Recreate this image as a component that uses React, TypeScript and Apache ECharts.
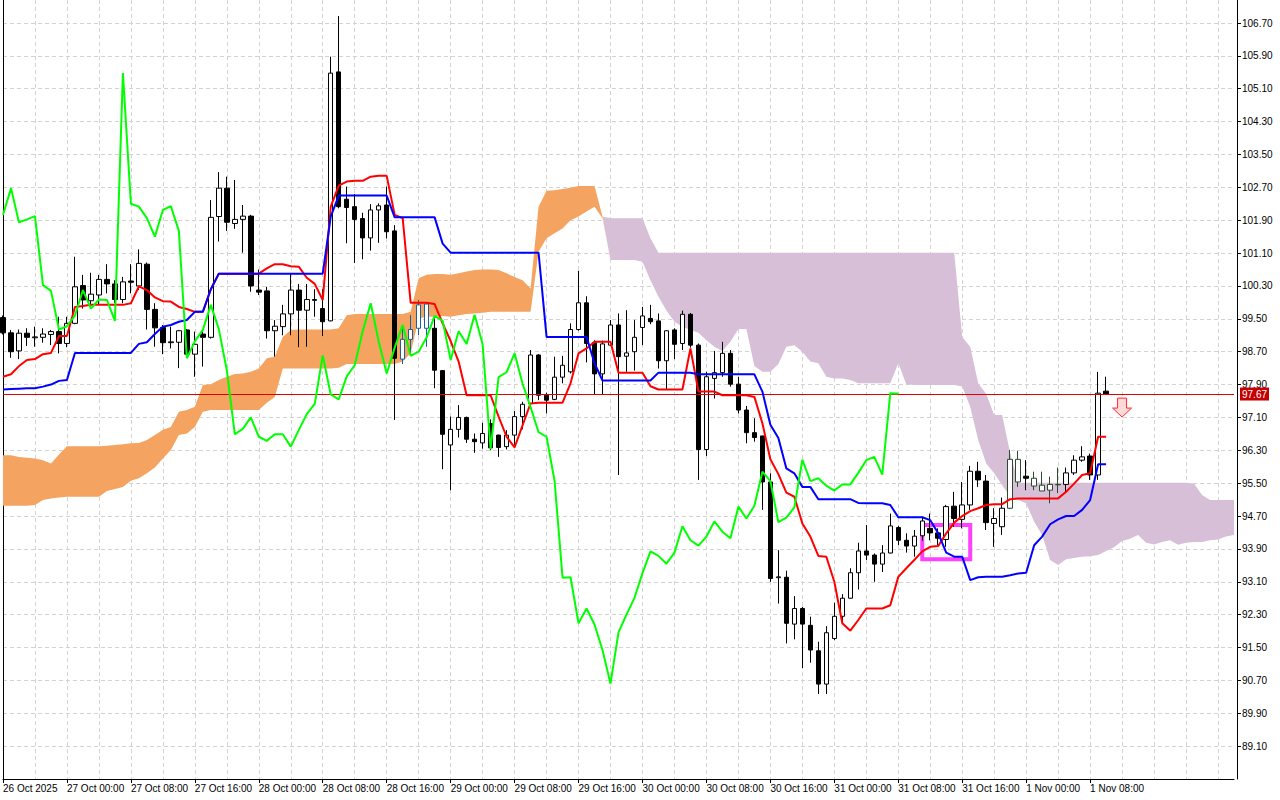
import React, { useEffect, useRef } from "react";
import * as echarts from "echarts";

// ---- time axis labels (one every 8 hourly bars, starting at bar 0) ----
const timeLabels = [
  "26 Oct 2025", "27 Oct 00:00", "27 Oct 08:00", "27 Oct 16:00", "28 Oct 00:00", "28 Oct 08:00",
  "28 Oct 16:00", "29 Oct 00:00", "29 Oct 08:00", "29 Oct 16:00", "30 Oct 00:00", "30 Oct 08:00",
  "30 Oct 16:00", "31 Oct 00:00", "31 Oct 08:00", "31 Oct 16:00", "1 Nov 00:00", "1 Nov 08:00",
];

// ---- hourly candles ----
const opens = [
  99.53, 99.16, 98.72, 99.15, 99.04, 99.05, 99.12, 99.19, 98.90, 99.39,
  100.31, 99.94, 100.08, 100.46, 100.35, 99.97, 100.42, 100.30, 100.83, 99.73,
  99.29, 98.92, 98.93, 99.23, 98.64, 99.13, 99.05, 101.99, 102.68, 101.82,
  101.92, 102.00, 100.20, 100.18, 99.21, 99.31, 99.62, 100.20, 99.71, 99.97,
  99.75, 99.45, 105.51, 102.41, 102.23, 101.94, 101.47, 102.15, 102.27, 101.64,
  98.52, 99.00, 99.27, 99.86, 99.27, 98.24, 96.43, 96.81, 97.10, 96.57,
  96.48, 96.95, 96.67, 96.39, 96.67, 97.12, 97.44, 98.62, 97.64, 97.54,
  98.08, 98.21, 99.24, 99.89, 98.92, 98.16, 98.86, 99.35, 98.59, 98.70,
  99.29, 99.51, 99.45, 98.48, 99.23, 98.90, 99.61, 98.86, 96.32, 98.05,
  98.19, 98.66, 97.91, 97.28, 96.73, 96.65, 95.53, 93.20, 93.21, 92.07,
  92.45, 92.04, 91.42, 90.61, 91.72, 92.26, 92.70, 93.32, 93.85, 93.75,
  93.53, 93.80, 94.42, 94.11, 93.97, 94.22, 94.40, 94.29, 94.13, 94.94,
  94.62, 94.97, 95.79, 95.55, 94.52, 94.44, 94.89, 96.08, 95.67, 95.62,
  95.45, 95.33, 95.47, 95.47, 95.75, 96.06, 96.16, 95.70, 97.74,
];
const closes = [
  99.16, 98.70, 99.15, 99.05, 99.06, 99.13, 99.19, 98.90, 99.39, 100.28,
  99.96, 100.10, 100.46, 100.35, 99.97, 100.40, 100.39, 100.85, 99.73, 99.28,
  98.92, 98.94, 99.21, 98.64, 98.88, 99.05, 101.97, 102.68, 101.85, 101.92,
  102.00, 100.30, 100.15, 99.21, 99.32, 99.62, 100.20, 99.71, 99.97, 99.95,
  99.43, 105.48, 102.23, 102.21, 101.92, 101.47, 102.15, 102.25, 101.62, 98.54,
  99.00, 99.24, 99.84, 99.27, 98.25, 96.69, 96.81, 97.10, 96.57, 96.51,
  96.71, 96.36, 96.37, 96.67, 97.12, 97.42, 98.62, 97.64, 97.52, 98.08,
  98.37, 99.24, 99.89, 98.90, 98.16, 98.89, 99.35, 98.58, 98.67, 99.05,
  99.57, 99.43, 98.48, 99.21, 98.88, 99.61, 98.86, 96.32, 98.09, 98.19,
  98.66, 97.91, 97.28, 96.73, 96.61, 95.53, 93.18, 93.22, 92.09, 92.45,
  92.07, 91.44, 90.61, 91.86, 92.26, 92.70, 93.32, 93.85, 93.75, 93.53,
  93.80, 94.46, 94.11, 93.97, 94.21, 94.58, 94.29, 94.16, 94.93, 94.64,
  94.97, 95.79, 95.58, 94.54, 94.64, 94.89, 96.08, 95.53, 95.62, 95.43,
  95.31, 95.47, 95.46, 95.75, 96.06, 96.14, 95.70, 97.69, 97.67,
];
const lows = [
  99.12, 98.55, 98.52, 98.84, 98.82, 98.92, 98.86, 98.66, 98.81, 99.37,
  99.75, 99.84, 99.84, 100.12, 99.88, 99.88, 100.12, 100.20, 99.24, 98.82,
  98.64, 98.78, 98.30, 98.58, 98.09, 98.34, 99.02, 101.38, 101.64, 101.69,
  101.11, 100.16, 100.08, 99.02, 98.58, 99.10, 99.10, 98.81, 98.82, 99.55,
  99.08, 99.44, 102.19, 101.34, 100.86, 100.95, 101.16, 101.35, 101.46, 97.04,
  98.40, 98.62, 99.10, 98.82, 97.81, 95.84, 95.33, 96.61, 96.48, 96.24,
  96.34, 96.30, 96.14, 96.32, 96.37, 96.81, 97.38, 97.52, 97.20, 97.52,
  97.93, 98.17, 99.21, 98.44, 97.67, 97.67, 98.85, 95.70, 98.21, 98.24,
  98.86, 99.37, 98.29, 97.78, 98.52, 98.74, 98.80, 95.58, 96.16, 97.56,
  98.09, 97.85, 97.20, 96.47, 96.51, 94.85, 93.10, 92.57, 91.60, 91.70,
  91.00, 91.13, 90.37, 90.37, 91.68, 92.13, 92.69, 92.91, 93.63, 93.10,
  93.34, 93.79, 93.99, 93.81, 93.71, 94.10, 94.11, 93.99, 93.95, 94.44,
  94.40, 94.85, 95.41, 94.36, 93.95, 94.24, 94.87, 95.41, 95.33, 95.33,
  95.31, 95.01, 95.26, 95.26, 95.70, 96.02, 95.58, 95.58, 97.66,
];
const highs = [
  99.58, 99.23, 99.24, 99.27, 99.31, 99.27, 99.23, 99.55, 99.55, 101.01,
  100.57, 100.62, 100.57, 100.83, 100.44, 100.52, 100.83, 101.19, 100.87, 99.88,
  99.35, 99.31, 99.23, 99.25, 99.19, 99.23, 102.39, 103.07, 102.96, 102.88,
  102.27, 102.03, 100.70, 100.28, 99.47, 99.84, 100.61, 100.35, 100.35, 100.22,
  100.22, 105.88, 106.87, 102.72, 102.54, 102.08, 102.29, 102.31, 102.72, 101.78,
  99.31, 99.59, 99.96, 99.89, 99.51, 98.25, 97.12, 97.40, 97.12, 96.71,
  96.97, 97.05, 96.68, 96.79, 97.26, 97.48, 98.74, 98.64, 97.70, 98.58,
  98.60, 99.39, 100.67, 100.05, 98.98, 98.97, 99.47, 99.63, 99.71, 99.47,
  99.79, 99.84, 99.63, 99.22, 99.27, 99.70, 99.64, 98.90, 98.21, 98.72,
  98.94, 98.74, 98.09, 97.38, 97.08, 96.65, 95.74, 93.87, 93.37, 92.75,
  92.49, 92.25, 91.64, 92.02, 92.59, 92.80, 93.43, 94.05, 94.48, 93.79,
  93.99, 94.76, 94.46, 94.28, 94.36, 94.68, 94.76, 94.40, 94.97, 95.29,
  95.53, 95.92, 96.02, 95.70, 94.89, 95.15, 96.31, 96.29, 96.06, 95.78,
  95.78, 95.66, 95.88, 95.88, 96.18, 96.40, 96.22, 98.21, 98.09,
];

// candles that the terminal paints in the inverted cloud colour
const candlesOverBullKumo = [50, 51, 52, 53];
const candlesOverBearKumo = [126, 127, 129, 130, 131, 132];
// tenkan stretch painted pink where it runs through the bullish cloud
const tenkanOverKumo = { from: 50.5, to: 54.5 };

// ---- Ichimoku lines ----
const tenkan = [
  98.09, 98.15, 98.35, 98.50, 98.52, 98.64, 98.67, 99.08, 99.08, 99.79,
  99.81, 99.84, 99.84, 99.84, 99.84, 99.84, 99.88, 100.29, 100.20, 100.02,
  99.93, 99.92, 99.79, 99.74, 99.67, 99.67, 100.22, 100.60, 100.60, 100.60,
  100.60, 100.60, 100.60, 100.73, 100.83, 100.83, 100.78, 100.77, 100.50, 100.35,
  99.96, 102.23, 102.74, 102.84, 102.86, 102.86, 102.96, 102.98, 102.98, 102.03,
  101.95, 99.89, 99.89, 99.89, 99.86, 99.39, 98.96, 98.46, 97.64, 97.64,
  97.64, 97.64, 97.12, 96.63, 96.37, 96.91, 97.44, 97.46, 97.46, 97.46,
  97.46, 97.93, 98.66, 98.78, 98.94, 98.94, 98.94, 98.19, 98.19, 98.19,
  98.19, 97.86, 97.78, 97.78, 97.78, 97.78, 98.78, 97.73, 97.73, 97.73,
  97.64, 97.64, 97.64, 97.64, 97.60, 96.96, 96.08, 95.72, 95.27, 95.17,
  94.52, 94.20, 93.73, 93.71, 93.10, 92.09, 91.91, 92.17, 92.45, 92.45,
  92.45, 92.53, 93.22, 93.43, 93.63, 93.84, 93.95, 93.97, 94.28, 94.54,
  94.70, 94.82, 94.89, 94.97, 94.99, 94.99, 95.11, 95.13, 95.13, 95.13,
  95.13, 95.13, 95.13, 95.29, 95.49, 95.70, 95.74, 96.63, 96.63,
];
const kijun = [
  97.78, 97.79, 97.80, 97.81, 97.81, 97.85, 97.90, 97.99, 98.01, 98.67,
  98.67, 98.67, 98.67, 98.67, 98.67, 98.67, 98.67, 98.89, 98.93, 99.13,
  99.31, 99.35, 99.43, 99.47, 99.67, 99.67, 100.22, 100.60, 100.60, 100.60,
  100.60, 100.60, 100.60, 100.60, 100.60, 100.60, 100.60, 100.60, 100.60, 100.60,
  100.60, 101.99, 102.50, 102.50, 102.50, 102.50, 102.50, 102.50, 102.50, 101.97,
  101.97, 101.97, 101.97, 101.97, 101.97, 101.33, 101.11, 101.11, 101.11, 101.11,
  101.11, 101.11, 101.11, 101.11, 101.11, 101.11, 101.11, 101.11, 99.06, 99.06,
  99.06, 99.06, 99.06, 99.06, 98.42, 98.00, 98.00, 98.00, 98.00, 98.00,
  98.00, 98.00, 98.19, 98.19, 98.19, 98.19, 98.19, 98.15, 98.15, 98.15,
  98.15, 98.15, 98.15, 98.15, 98.15, 97.73, 96.92, 96.60, 95.86, 95.74,
  95.41, 95.41, 95.11, 95.11, 95.11, 95.11, 95.11, 95.02, 95.01, 95.01,
  95.01, 94.97, 94.67, 94.67, 94.67, 94.67, 94.60, 94.28, 93.81, 93.71,
  93.71, 93.14, 93.21, 93.22, 93.22, 93.22, 93.26, 93.30, 93.32, 93.99,
  94.20, 94.50, 94.62, 94.70, 94.70, 94.85, 95.09, 95.96, 95.96,
];
const chikou = [
  102.03, 102.68, 101.85, 101.92, 102.00, 100.32, 100.18, 99.24, 99.32, 99.58,
  100.20, 99.75, 99.97, 99.96, 99.45, 105.48, 102.30, 102.23, 101.95, 101.50,
  102.15, 102.24, 101.64, 98.54, 98.95, 99.23, 99.84, 99.25, 98.25, 96.69,
  96.82, 97.10, 96.63, 96.53, 96.69, 96.69, 96.39, 96.79, 97.18, 97.43,
  98.61, 97.66, 97.54, 98.10, 98.37, 99.20, 99.88, 98.95, 98.17, 98.80,
  99.35, 98.60, 98.70, 99.05, 99.57, 99.45, 98.50, 99.20, 98.89, 99.60,
  98.88, 96.33, 98.08, 98.20, 98.66, 97.92, 97.35, 96.74, 96.63, 95.56,
  93.20, 93.21, 92.09, 92.45, 92.06, 91.44, 90.62, 91.87, 92.30, 92.71,
  93.31, 93.84, 93.73, 93.54, 93.81, 94.45, 94.11, 93.98, 94.20, 94.57,
  94.32, 94.16, 94.93, 94.64, 94.95, 95.78, 95.55, 94.55, 94.66, 94.91,
  96.07, 95.55, 95.62, 95.44, 95.32, 95.47, 95.47, 95.75, 96.06, 96.14,
  95.71, 97.69, 97.68,
];
const senkouA = [
  96.18, 96.18, 96.14, 96.12, 96.10, 96.06, 95.98, 96.20, 96.40, 96.40,
  96.40, 96.40, 96.40, 96.41, 96.43, 96.45, 96.47, 96.48, 96.55, 96.67,
  96.80, 96.87, 97.24, 97.28, 97.36, 97.89, 97.91, 98.01, 98.09, 98.16,
  98.17, 98.21, 98.29, 98.54, 98.58, 99.06, 99.23, 99.24, 99.24, 99.24,
  99.24, 99.24, 99.27, 99.59, 99.62, 99.62, 99.62, 99.62, 99.62, 99.62,
  99.62, 99.67, 100.49, 100.57, 100.59, 100.59, 100.57, 100.61, 100.65, 100.69,
  100.70, 100.70, 100.69, 100.61, 100.52, 100.44, 100.24, 102.23, 102.62, 102.63,
  102.66, 102.69, 102.73, 102.73, 102.73, 101.99, 100.93, 100.93, 100.93, 100.93,
  100.89, 100.44, 100.04, 99.70, 99.43, 99.31, 99.23, 99.16, 98.98, 98.82,
  98.72, 98.94, 99.25, 99.25, 98.35, 98.21, 98.21, 98.40, 98.82, 98.86,
  98.70, 98.46, 98.42, 98.09, 98.05, 98.05, 98.01, 97.93, 97.93, 97.93,
  97.93, 97.93, 98.42, 97.91, 97.89, 97.89, 97.89, 97.89, 97.89, 97.89,
  97.85, 97.36, 96.55, 95.98, 95.74, 95.45, 95.17, 95.09, 95.01, 94.56,
  94.24, 93.63, 93.51, 93.65, 93.68, 93.71, 93.72, 93.75, 93.85, 93.94,
  94.09, 94.15, 94.24, 94.05, 94.01, 94.07, 94.11, 94.00, 94.05, 94.07,
  94.07, 94.11, 94.13, 94.20, 94.24,
];
const senkouB = [
  94.95, 94.95, 94.95, 94.95, 94.97, 95.09, 95.13, 95.15, 95.17, 95.17,
  95.17, 95.17, 95.17, 95.31, 95.36, 95.41, 95.56, 95.62, 95.74, 95.88,
  96.10, 96.31, 96.67, 96.71, 96.87, 97.24, 97.28, 97.28, 97.28, 97.28,
  97.28, 97.28, 97.28, 97.46, 97.60, 98.29, 98.29, 98.29, 98.29, 98.29,
  98.29, 98.29, 98.31, 98.40, 98.40, 98.40, 98.40, 98.40, 98.40, 98.40,
  98.46, 98.66, 99.51, 99.55, 99.55, 99.57, 99.55, 99.59, 99.62, 99.63,
  99.65, 99.67, 99.67, 99.67, 99.67, 99.67, 99.67, 101.13, 101.46, 101.58,
  101.70, 101.90, 101.99, 102.11, 102.23, 101.95, 101.95, 101.95, 101.95, 101.95,
  101.95, 101.46, 101.11, 101.11, 101.11, 101.11, 101.11, 101.11, 101.11, 101.11,
  101.11, 101.11, 101.11, 101.11, 101.11, 101.11, 101.11, 101.11, 101.11, 101.11,
  101.11, 101.11, 101.11, 101.11, 101.11, 101.11, 101.11, 101.11, 101.11, 101.11,
  101.11, 101.11, 101.11, 101.11, 101.11, 101.11, 101.11, 101.11, 101.11, 101.11,
  99.06, 98.82, 97.93, 97.67, 97.16, 97.16, 96.23, 95.51, 95.51, 95.51,
  95.51, 95.51, 95.51, 95.51, 95.51, 95.51, 95.51, 95.51, 95.51, 95.51,
  95.51, 95.51, 95.51, 95.51, 95.51, 95.51, 95.51, 95.51, 95.51, 95.49,
  95.21, 95.09, 95.09, 95.09, 95.09,
];

// ---- annotations ----
const bidPrice = 97.67;
const signalBox = { fromBar: "115", toBar: "121", top: 94.48, bottom: 93.65 };
const sellArrow = { bar: "140", price: 97.34 };

// ---- price scale ----
const priceMin = 88.3;
const priceMax = 107.26;
const priceStep = 0.8;

const FONT = "'Liberation Sans', Arial, sans-serif";
const GRID_COLOR = "#d3d3d3";
const BULL_KUMO = "#F4A460";
const BEAR_KUMO = "#D8BFD8";
const ON_BULL_KUMO = "#1a5f9e";
const ON_BEAR_KUMO = "#2c4a2c";

export default function App() {
  const ref = useRef<HTMLDivElement>(null);

  useEffect(() => {
    if (!ref.current) return;
    const chart = echarts.init(ref.current, null, { renderer: "svg" });

    const categories = senkouA.map((_, i) => String(i));
    const candles = opens.map((o, i) => {
      const value = [o, closes[i], lows[i], highs[i]];
      const tint = candlesOverBullKumo.includes(i)
        ? ON_BULL_KUMO
        : candlesOverBearKumo.includes(i)
        ? ON_BEAR_KUMO
        : null;
      if (!tint) return value;
      return {
        value,
        itemStyle: { color: "#ffffff", color0: tint, borderColor: tint, borderColor0: tint },
      };
    });
    const kumoBase = senkouA.map((a, i) => Math.min(a, senkouB[i]));
    const kumoBull = senkouA.map((a, i) => Math.max(a - senkouB[i], 0));
    const kumoBear = senkouA.map((a, i) => Math.max(senkouB[i] - a, 0));
    const labelAt = (idx: number) => idx % 8 === 0 && idx / 8 < timeLabels.length;

    chart.setOption({
      animation: false,
      backgroundColor: "#ffffff",
      grid: { left: 2, right: 46, top: 0, bottom: 21 },
      visualMap: {
        type: "piecewise",
        show: false,
        seriesIndex: 4,
        dimension: 0,
        pieces: [
          { lt: tenkanOverKumo.from, color: "#ff0000" },
          { gte: tenkanOverKumo.from, lte: tenkanOverKumo.to, color: "#ff5fbf" },
          { gt: tenkanOverKumo.to, color: "#ff0000" },
        ],
      },
      xAxis: {
        type: "category",
        data: categories,
        boundaryGap: false,
        axisLine: { show: true, lineStyle: { color: "#000", width: 1 } },
        axisTick: {
          show: true,
          interval: (i: number) => labelAt(i),
          length: 4,
          lineStyle: { color: "#000" },
        },
        axisLabel: {
          interval: (i: number) => labelAt(i),
          formatter: (v: string) => timeLabels[Number(v) / 8] ?? "",
          align: "left",
          margin: 4,
          color: "#000",
          fontSize: 10,
          fontFamily: FONT,
        },
        splitLine: {
          show: true,
          interval: (i: number) => i % 4 === 0,
          lineStyle: { color: GRID_COLOR, type: [4, 3], width: 1 },
        },
      },
      yAxis: [
        {
          type: "value",
          position: "right",
          offset: 3,
          min: priceMin,
          max: priceMax,
          interval: priceStep,
          axisLine: { show: true, lineStyle: { color: "#000" } },
          axisTick: { show: true, length: 4, lineStyle: { color: "#000" } },
          axisLabel: {
            formatter: (v: number) => v.toFixed(2),
            color: "#000",
            fontSize: 10,
            fontFamily: FONT,
            margin: 5,
            showMinLabel: false,
            showMaxLabel: false,
            padding: [3, 0, 0, 0],
          },
          splitLine: {
            show: true,
            showMinLine: false,
            showMaxLine: false,
            lineStyle: { color: GRID_COLOR, type: [4, 3], width: 1 },
          },
        },
        {
          type: "value",
          position: "left",
          min: priceMin,
          max: priceMax,
          axisLine: { show: true, lineStyle: { color: "#000" } },
          axisTick: { show: false },
          axisLabel: { show: false },
          splitLine: { show: false },
        },
      ],
      series: [
        {
          name: "kumoBase",
          type: "line",
          data: kumoBase,
          stack: "kumo",
          symbol: "none",
          silent: true,
          lineStyle: { width: 0, opacity: 0 },
          z: 1,
        },
        {
          name: "kumoBull",
          type: "line",
          data: kumoBull,
          stack: "kumo",
          symbol: "none",
          silent: true,
          lineStyle: { width: 0, opacity: 0 },
          areaStyle: { color: BULL_KUMO, opacity: 1 },
          z: 1,
        },
        {
          name: "kumoBear",
          type: "line",
          data: kumoBear,
          stack: "kumo",
          symbol: "none",
          silent: true,
          lineStyle: { width: 0, opacity: 0 },
          areaStyle: { color: BEAR_KUMO, opacity: 1 },
          z: 1,
          markLine: {
            silent: true,
            symbol: ["none", "none"],
            lineStyle: { color: "#e00000", width: 1, type: "solid", opacity: 1 },
            label: {
              show: true,
              position: "end",
              formatter: bidPrice.toFixed(2),
              color: "#ffffff",
              backgroundColor: "#c40000",
              padding: [2, 2, 1, 2],
              fontSize: 10,
              fontFamily: FONT,
              distance: 6,
            },
            emphasis: { disabled: true },
            data: [{ yAxis: bidPrice }],
          },
        },
        {
          name: "price",
          type: "candlestick",
          data: candles,
          barWidth: 5,
          silent: true,
          z: 3,
          itemStyle: {
            color: "#ffffff",
            color0: "#000000",
            borderColor: "#000000",
            borderColor0: "#000000",
            borderWidth: 1,
          },
          markArea: {
            silent: true,
            itemStyle: { color: "rgba(0,0,0,0)", borderColor: "#ff40ff", borderWidth: 4 },
            data: [[
              { xAxis: signalBox.fromBar, yAxis: signalBox.top },
              { xAxis: signalBox.toBar, yAxis: signalBox.bottom },
            ]],
          },
          markPoint: {
            silent: true,
            data: [
              {
                coord: [sellArrow.bar, sellArrow.price],
                symbol: "path://M5,0L14,0L14,10L19,10L9.5,19L0,10L5,10Z",
                symbolSize: [19, 19],
                itemStyle: { color: "#ffd8d8", borderColor: "#ff2a2a", borderWidth: 1 },
                label: { show: false },
              },
            ],
          },
        },
        {
          name: "Tenkan-sen",
          type: "line",
          data: tenkan,
          symbol: "none",
          silent: true,
          lineStyle: { color: "#ff0000", width: 2 },
          z: 4,
        },
        {
          name: "Kijun-sen",
          type: "line",
          data: kijun,
          symbol: "none",
          silent: true,
          lineStyle: { color: "#0000ff", width: 2 },
          z: 5,
        },
        {
          name: "Chikou Span",
          type: "line",
          data: chikou,
          symbol: "none",
          silent: true,
          lineStyle: { color: "#00ff00", width: 2 },
          z: 6,
        },
      ],
    });

    return () => chart.dispose();
  }, []);

  return (
    <div
      ref={ref}
      style={{ position: "absolute", left: 0, top: 0, width: 1280, height: 800, background: "#fff" }}
    />
  );
}
